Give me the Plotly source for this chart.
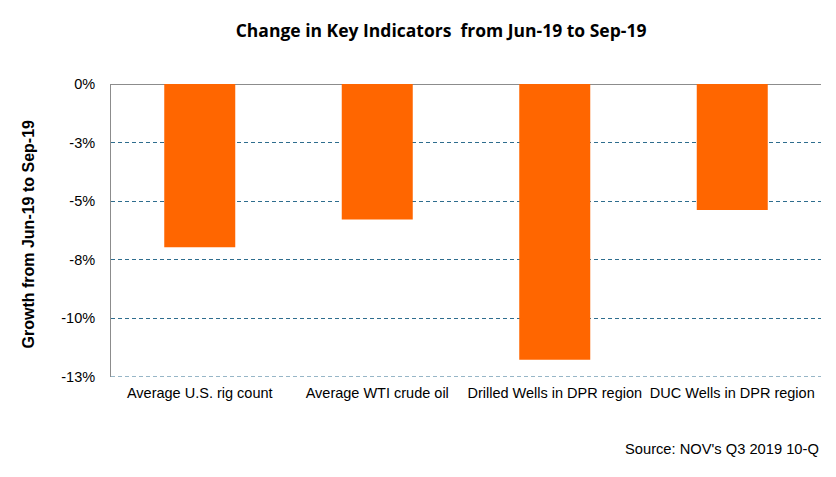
import plotly.graph_objects as go

categories = ["Average U.S. rig count", "Average WTI crude oil",
              "Drilled Wells in DPR region", "DUC Wells in DPR region"]
growth_pct = [-6.96, -5.78, -11.76, -5.38]
tick_vals = [0, -2.5, -5, -7.5, -10, -12.5]
tick_text = ["0%", "-3%", "-5%", "-8%", "-10%", "-13%"]

grid_color = "#2E6D8E"

# page body adds an 8px offset, so margins are shifted to compensate
fig = go.Figure()
fig.add_trace(go.Bar(
    x=categories, y=growth_pct,
    marker=dict(color="#FF6600", line=dict(width=0)),
    width=0.4,
    hoverinfo="x+y",
))

fig.update_layout(
    width=836, height=477,
    margin=dict(l=103, r=23, t=76, b=108),
    paper_bgcolor="white", plot_bgcolor="white",
    font=dict(family="Liberation Sans, Arial, sans-serif", size=14.5, color="black"),
    title=dict(text="<b>Change in Key Indicators  from Jun-19 to Sep-19</b>",
               x=0.518, xanchor="center", y=0.952, yanchor="middle",
               font=dict(size=17.5, family="Open Sans, Liberation Sans, sans-serif")),
    showlegend=False,
    bargap=0.6,
)
fig.update_yaxes(
    range=[tick_vals[-1], 0], tickvals=tick_vals, ticktext=tick_text,
    showgrid=True, gridcolor=grid_color, griddash="4px,3px", gridwidth=1,
    zeroline=True, zerolinecolor="#8C8C8C", zerolinewidth=1,
    showline=True, linecolor="#8C8C8C", linewidth=1,
    ticks="", ticklabelstandoff=12,
)
fig.update_xaxes(
    tickangle=0, showline=False, ticks="", showgrid=False,
    ticklabelstandoff=5,
)
# plotly skips the grid line sitting on the lower edge, so draw it here
fig.add_shape(
    type="line", xref="paper", yref="y", x0=0, x1=1,
    y0=tick_vals[-1], y1=tick_vals[-1],
    line=dict(color=grid_color, width=1, dash="4px,3px"),
)
fig.add_annotation(
    text="<b>Growth from Jun-19 to Sep-19</b>", textangle=-90,
    xref="paper", yref="paper", x=0, y=0.5, xanchor="center", yanchor="middle",
    xshift=-83, yshift=-4, showarrow=False, font=dict(size=16),
)
fig.add_annotation(
    text="Source: NOV's Q3 2019 10-Q", xref="paper", yref="paper",
    x=1.0, y=-0.245, xanchor="right", yanchor="middle",
    showarrow=False, font=dict(size=14.7),
)

fig.write_html("out.html")
